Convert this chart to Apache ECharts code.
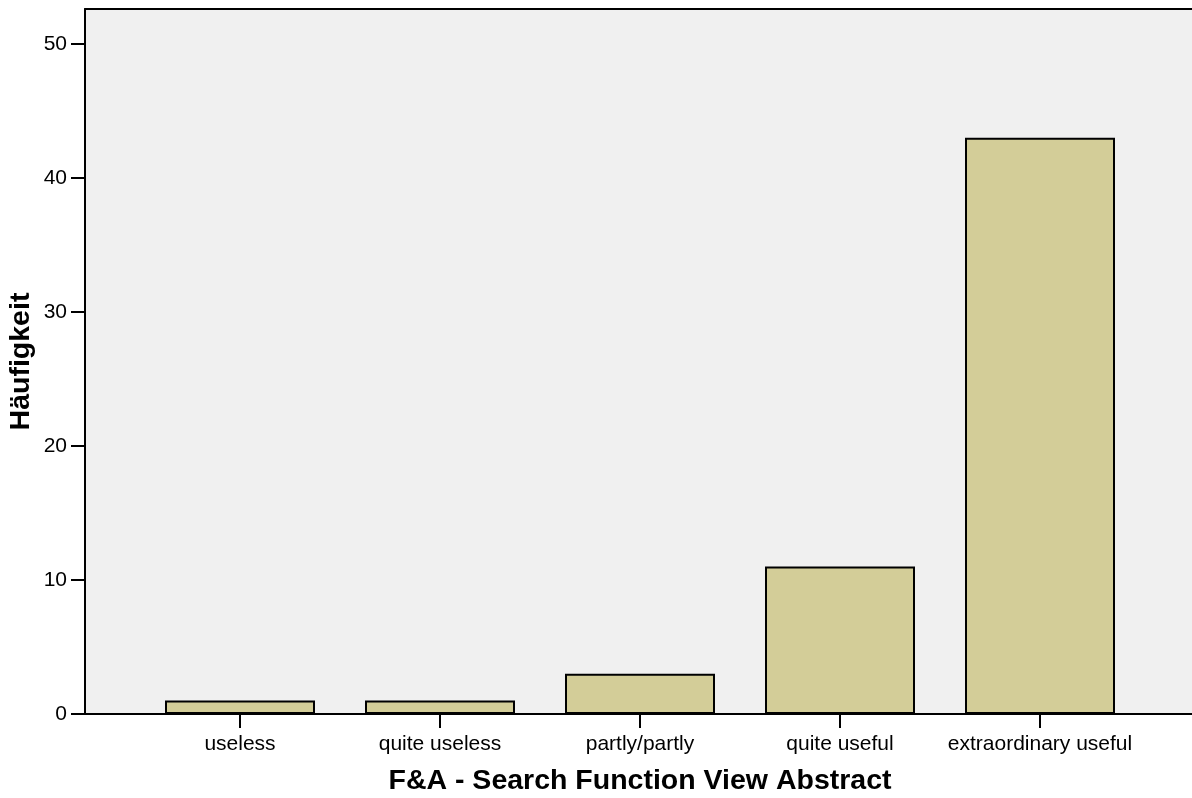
<!DOCTYPE html>
<html>
<head>
<meta charset="utf-8">
<script src="https://cdn.jsdelivr.net/npm/echarts@6/dist/echarts.min.js"></script>
</head>
<body style="margin:0; padding:0;">
<div id="chart" style="width:1192px; height:798px;"></div>
<script type="text/javascript">
// Data
var categories = ['useless', 'quite useless', 'partly/partly', 'quite useful', 'extraordinary useful'];
var counts = [1, 1, 3, 11, 43];
var yTicks = [0, 10, 20, 30, 40, 50];
var yMax = 52.6;

var font = 'Liberation Sans, Arial, sans-serif';
var frameLine = { show: true, onZero: false, lineStyle: { color: '#000', width: 2 } };

var option = {
	animation: false,
	grid: [
		// frame with grey background (open on the right)
		{ left: 85, right: 0, top: 9, bottom: 84, outerBoundsMode: 'none', containLabel: false, show: true, backgroundColor: '#f0f0f0', borderWidth: 0 },
		// data area
		{ left: 140, right: 52, top: 9, bottom: 84, outerBoundsMode: 'none', containLabel: false }
	],
	xAxis: [
		{ gridIndex: 0, type: 'value', position: 'top', min: 0, max: 1, axisLine: frameLine, axisTick: { show: false }, axisLabel: { show: false }, splitLine: { show: false } },
		{ gridIndex: 0, type: 'value', position: 'bottom', min: 0, max: 1, axisLine: frameLine, axisTick: { show: false }, axisLabel: { show: false }, splitLine: { show: false } },
		{
			gridIndex: 1,
			type: 'category',
			data: categories,
			name: 'F&A - Search Function View Abstract',
			nameLocation: 'middle',
			nameGap: 53,
			nameTextStyle: { fontFamily: font, fontSize: 28.5, fontWeight: 'bold', color: '#000' },
			axisLine: frameLine,
			axisTick: { show: true, alignWithLabel: true, length: 14, lineStyle: { color: '#000', width: 2 } },
			axisLabel: { fontFamily: font, fontSize: 21, color: '#000', margin: 20, interval: 0 },
			splitLine: { show: false }
		}
	],
	yAxis: [
		{
			gridIndex: 0,
			type: 'value',
			min: 0,
			max: yMax,
			axisLine: frameLine,
			axisTick: { show: true, length: 14, customValues: yTicks, lineStyle: { color: '#000', width: 2 } },
			axisLabel: { fontFamily: font, fontSize: 21, color: '#000', margin: 18, customValues: yTicks },
			splitLine: { show: false }
		},
		{
			// data axis, only carries the title
			gridIndex: 1,
			type: 'value',
			min: 0,
			max: yMax,
			name: 'Häufigkeit',
			nameLocation: 'middle',
			nameGap: 104,
			nameTextStyle: { fontFamily: font, fontSize: 28.5, fontWeight: 'bold', color: '#000' },
			axisLine: { show: false },
			axisTick: { show: false },
			axisLabel: { show: false },
			splitLine: { show: false }
		}
	],
	series: [{
		type: 'bar',
		xAxisIndex: 2,
		yAxisIndex: 1,
		data: counts,
		barWidth: 150,
		itemStyle: { color: '#d3cd98', borderColor: '#000', borderWidth: 2 }
	}]
};

var myChart = echarts.init(document.getElementById('chart'));
myChart.setOption(option);
</script>
</body>
</html>
